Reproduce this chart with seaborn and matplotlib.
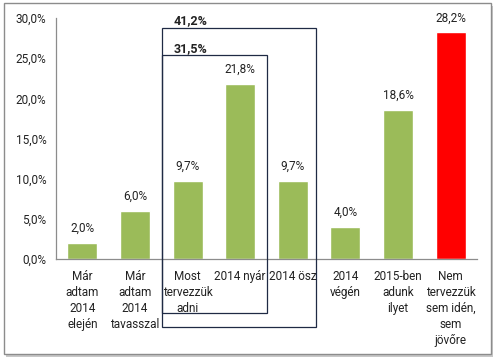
import matplotlib
matplotlib.use("Agg")
import matplotlib.pyplot as plt
import seaborn as sns
import pandas as pd
from matplotlib.patches import Rectangle
from matplotlib import font_manager

categories = ["Már\nadtam\n2014\nelején", "Már\nadtam\n2014\ntavasszal", "Most\ntervezzük\nadni",
              "2014 nyár", "2014 ösz", "2014\nvégén", "2015-ben\nadunk\nilyet",
              "Nem\ntervezzük\nsem idén,\nsem\njövőre"]
values = [2.0, 6.0, 9.7, 21.8, 9.7, 4.0, 18.6, 28.2]
colors = ["#9BBB59"] * 7 + ["#FF0000"]
yticks = [0, 5, 10, 15, 20, 25, 30]
group_outer_label = "41,2%"
group_inner_label = "31,5%"

sns.set_theme(style="white")
names = {f.name for f in font_manager.fontManager.ttflist}
main_font = "Liberation Sans Narrow" if "Liberation Sans Narrow" in names else "Roboto"
plt.rcParams['font.family'] = [main_font, 'DejaVu Sans']
fs = 9.5 if main_font == "Liberation Sans Narrow" else 8.5

fig = plt.figure(figsize=(5.0, 3.62), dpi=100)
fig.patch.set_facecolor("white")

# frame with shadow
shadow = Rectangle((6/500, 1 - 357/362), 487/500, 351/362, transform=fig.transFigure,
                   facecolor="#c8c8c8", edgecolor="none", zorder=-3)
frame = Rectangle((4/500, 1 - 354/362), 487/500, 351/362, transform=fig.transFigure,
                  facecolor="white", edgecolor="#8c8c8c", linewidth=1.0, zorder=-2)
fig.patches.extend([shadow, frame])

ax = fig.add_axes([56/500, 1 - 259/362, 421/500, 241/362])
ax.set_facecolor("none")
ax.set_zorder(1)

df = pd.DataFrame({"cat": categories, "val": values})
sns.barplot(data=df, x="cat", y="val", hue="cat", palette=colors, legend=False,
            width=0.57, ax=ax, saturation=1)

ax.set_xlim(-0.5, 7.5)
ax.set_ylim(0, 30)
ax.set_yticks(yticks)
ax.set_yticklabels([f"{t:.1f}%".replace(".", ",") for t in yticks], fontsize=fs, color="#222222")
ax.tick_params(axis="both", length=0, pad=7)
ax.tick_params(axis="x", pad=8)
ax.set_xticks(range(len(categories)))
ax.set_xticklabels(categories, fontsize=fs, color="#222222", linespacing=1.3)
ax.set_xlabel("")
ax.set_ylabel("")
for s in ["top", "right"]:
    ax.spines[s].set_visible(False)
for s in ["left", "bottom"]:
    ax.spines[s].set_color("#8c8c8c")
    ax.spines[s].set_linewidth(0.9)

for i, v in enumerate(values):
    ax.text(i, v + 1.0, f"{v:.1f}%".replace(".", ","), ha="center", va="bottom",
            fontsize=fs, color="#222222")

# group boxes
outer = Rectangle((1.515, -8.5), 4.44 - 1.515, 28.7 + 8.5, fill=False,
                  edgecolor="#1f2a44", linewidth=0.9, clip_on=False, zorder=5)
inner = Rectangle((1.515, -6.7), 3.51 - 1.515, 25.4 + 6.7, fill=False,
                  edgecolor="#1f2a44", linewidth=0.9, clip_on=False, zorder=5)
ax.add_patch(outer)
ax.add_patch(inner)
ax.text(1.74, 29.7, group_outer_label, ha="left", va="center", fontsize=fs + 0.5,
        fontweight="bold", color="#222222", clip_on=False)
ax.text(1.74, 26.2, group_inner_label, ha="left", va="center", fontsize=fs + 0.5,
        fontweight="bold", color="#222222", clip_on=False)

fig.savefig("out.png", dpi=100)
